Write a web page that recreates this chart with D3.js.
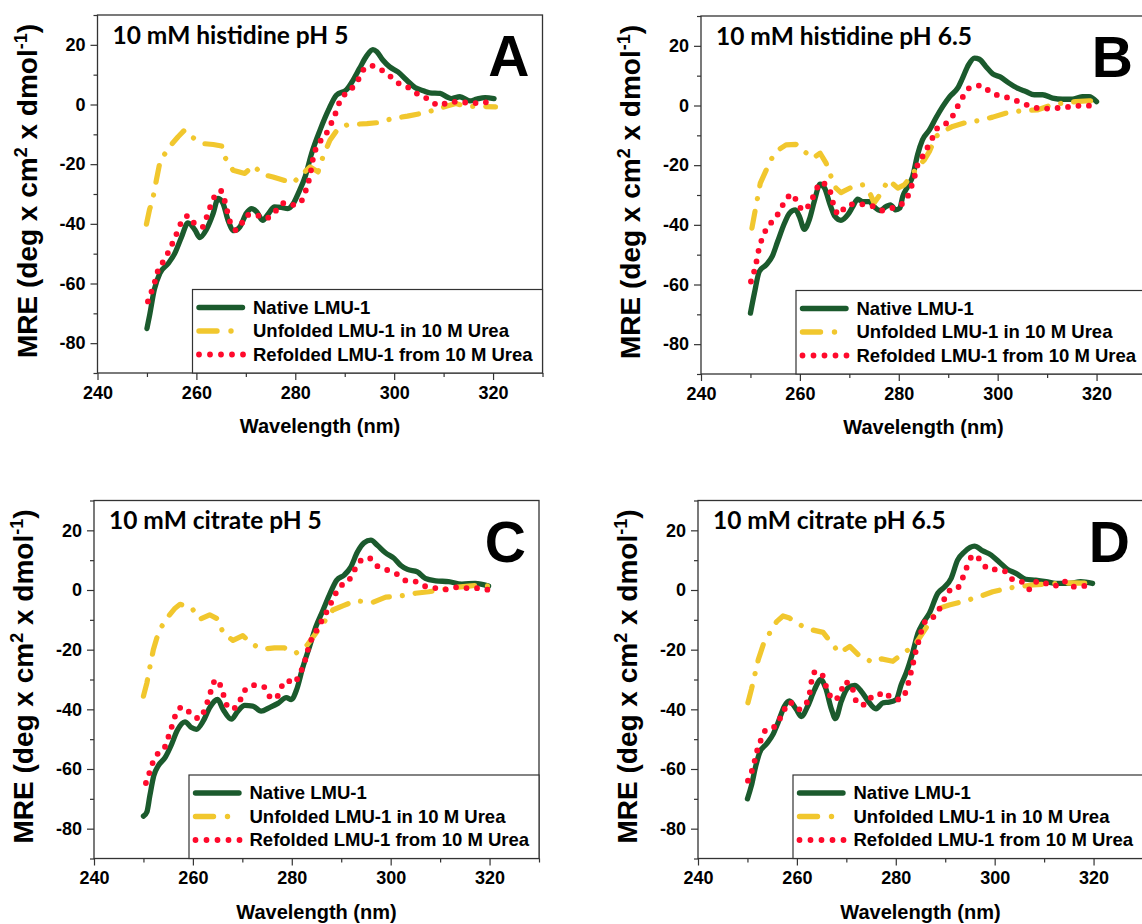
<!DOCTYPE html>
<html>
<head>
<meta charset="utf-8">
<script src="https://cdn.jsdelivr.net/npm/d3@7"></script>
<style>
  body { margin: 0; background: #fff; }
  svg { display: block; }
  text { font-family: "Liberation Sans", Arial, sans-serif; font-weight: bold; fill: #000; }
</style>
</head>
<body>
<svg id="chart" width="1142" height="924"></svg>
<script>
// ---- axis ticks and labels ----
const wavelengthTicks = [240, 260, 280, 300, 320];
const wavelengthMinor = [250, 270, 290, 310, 330];
const mreTicks = [-80, -60, -40, -20, 0, 20];
const mreMinor = [-90, -70, -50, -30, -10, 10, 30];
const seriesNames = ["Native LMU-1", "Unfolded LMU-1 in 10 M Urea", "Refolded LMU-1 from 10 M Urea"];
const panelTitles = ["10 mM histidine pH 5", "10 mM histidine pH 6.5", "10 mM citrate pH 5", "10 mM citrate pH 6.5"];
const panelLetters = ["A", "B", "C", "D"];

// ---- CD spectra: [wavelength (nm), MRE] ----
const nativeA = [[250,-75.1],[250.5,-71],[251.5,-62],[252.6,-56.6],[254.3,-53.3],[255.6,-50],[257,-44.4],[258.3,-39.7],[259.7,-42],[260.7,-44.6],[262,-42],[263.4,-36.5],[264.4,-31.5],[265.4,-33.2],[266.4,-38.8],[267.6,-42.3],[268.8,-41],[270.1,-36.5],[271.2,-34.9],[272.2,-36],[273.4,-38.8],[274.6,-36.5],[275.8,-34.3],[277.2,-34.5],[278.5,-34.9],[279.6,-33.2],[280.6,-29.8],[282,-24.2],[283.3,-16.4],[285,-8.6],[286.7,-1.9],[288.3,3.1],[290.4,5],[291.7,8.2],[293,12.1],[294.4,16.2],[295.7,18.4],[296.5,17.7],[297.7,14.9],[299.1,12.6],[300.8,10.9],[302.5,8.2],[304.2,5.7],[305.9,4.6],[307.2,3.9],[309.3,3.7],[310.6,2.6],[311.6,2],[313.3,2.6],[315.3,1.2],[316.7,1.8],[318.4,2.3],[320.2,2]];
const unfoldedA = [[249.9,-40.1],[250.5,-35.4],[251.2,-31.5],[251.9,-25.4],[252.7,-18.7],[253.6,-16.6],[255.1,-13.1],[256.3,-10.8],[257.6,-8.6],[259.3,-11.1],[261.3,-13.1],[263.4,-13.4],[265.1,-13.9],[265.7,-17.5],[267.4,-22],[269.8,-23.1],[271.5,-20.5],[273.5,-23.5],[275.5,-24.3],[277.5,-25.3],[279.5,-26.3],[281.6,-23.1],[283,-20.9],[284.6,-22.6],[285.6,-17.5],[287,-12],[288.7,-8],[290.4,-6.9],[292.4,-6.6],[294.5,-6.4],[296.6,-6.1],[299.7,-4.7],[302.7,-3.9],[305.4,-3],[308.1,-1.9],[310.5,-0.6],[312.5,0.3],[314.5,-0.6],[317.2,-0.6],[320.5,-0.8]];
const refoldedA = [[250.2,-66],[250.9,-62.8],[251.6,-59.4],[252.2,-55.8],[253.4,-52.4],[254.3,-49.6],[255.3,-46],[256.1,-42.9],[257,-39.3],[258.4,-37.3],[259.9,-40.4],[261.3,-41],[262.1,-37.6],[262.8,-34.3],[263.7,-30.7],[264.9,-28.9],[265.7,-32.1],[266.7,-38.8],[268,-42.1],[269.1,-40.1],[270.1,-37.1],[271.9,-36.9],[273.8,-38.2],[275.5,-36.8],[276.6,-34.5],[278.1,-32.8],[279.9,-33.7],[281.6,-31.5],[282.3,-27.8],[282.9,-24.5],[283.7,-17.3],[284.4,-13.9],[286,-10.6],[287.1,-6.9],[288,-3.6],[288.7,-0.2],[290,3.4],[291.7,5.9],[292.7,8.2],[293.7,11.5],[295.3,13],[297.5,11.5],[299.3,9.3],[301,7],[303.2,5.4],[305.1,3.1],[307.1,1.7],[309.1,-0.4],[311.3,0.9],[313.4,0.9],[315.7,0.3],[317.9,0.9],[320.1,-0.6]];

const nativeB = [[250,-69.6],[250.8,-62.9],[251.8,-55.6],[253.2,-53.4],[254.4,-50.6],[255.5,-45.6],[256.9,-39.4],[257.9,-36.1],[259.1,-35],[259.9,-37.2],[260.9,-41.5],[261.9,-38.3],[262.9,-32.2],[264.1,-26.4],[265,-27.7],[266,-32.7],[267.1,-37.2],[268.3,-38.5],[269.7,-36.6],[270.7,-33.9],[271.7,-31.4],[272.7,-32.2],[274,-32.2],[275,-33.9],[276.2,-35.2],[277.4,-33.9],[278.3,-33.3],[279.4,-35],[280.2,-34.4],[280.8,-30.5],[281.8,-27.2],[282.8,-23.8],[283.8,-16.5],[284.8,-11.5],[286.2,-8.2],[287.5,-4.2],[288.9,-0.3],[290.3,3],[291.9,5.8],[292.9,9.2],[294.1,13.6],[295.3,15.9],[296.3,15.5],[297.6,13.1],[299,10.6],[300.6,9.5],[302.3,7.5],[304,5.8],[305.7,4.7],[307.4,3.6],[309.1,3.6],[311.1,2.5],[313.1,2.1],[315.1,2.1],[317.1,3],[318.5,3],[320,1.3]];
const unfoldedB = [[250.3,-41.1],[251.1,-33.9],[252,-26],[253.2,-21.6],[254.5,-17.1],[255.9,-14.6],[257.2,-13.2],[259.2,-13],[260.9,-15.4],[262.6,-17.7],[264.1,-16],[265.3,-19.3],[266.3,-23.8],[267.3,-27.7],[268.3,-29.2],[270.7,-27.2],[272.7,-26.6],[274,-28.8],[275,-32.7],[276.4,-29.4],[277.9,-24.9],[279.8,-27.7],[281.1,-26.6],[282.5,-23.8],[283.8,-20.4],[285.2,-18.2],[286.2,-15.4],[287.5,-10.4],[288.9,-8.7],[290.9,-7],[293.6,-5.7],[296.3,-5],[299,-3.9],[301.6,-2.6],[305,-1.7],[308,-1.5],[310.4,-0.1],[313.1,0.8],[315.8,1.3],[318.5,1.6],[320,1.3]];
const refoldedB = [[250.1,-59],[250.8,-55.3],[251.3,-51.7],[251.7,-48.2],[252.4,-44.5],[253.3,-41.1],[254.6,-38.5],[255.9,-35.5],[256.9,-32.2],[258.6,-29.7],[259.4,-32.5],[260.9,-35.2],[262.1,-32.4],[263.1,-29.2],[264.1,-25.8],[265.3,-26.6],[266.3,-29.7],[266.8,-33.3],[268,-36.6],[269.2,-33.9],[271.3,-33],[273.4,-33.3],[275,-33.9],[276.7,-35.2],[278.6,-34.4],[280.4,-33.3],[281.8,-30.5],[282.5,-27.4],[283.2,-23.8],[283.8,-19.9],[284.8,-17.1],[286.8,-10.9],[287.8,-7.6],[289.5,-6.1],[290.9,-3.5],[291.9,-0.3],[293,3],[294.4,6],[296.7,6.7],[298.8,4.1],[300.8,3.2],[302.9,2.2],[304.9,0.8],[306.9,-0.3],[308.9,-1.1],[311.2,-0.9],[313.4,-0.7],[315.7,-0.1],[317.7,-0.1],[319.8,0.2]];

const nativeC = [[250,-75.8],[250.7,-74.4],[251.3,-68.9],[252.1,-62.2],[253,-58.9],[254.4,-56.1],[255.7,-51.7],[256.8,-47.2],[258.4,-44.2],[259.7,-46.1],[260.7,-46.7],[262.1,-43.9],[263.4,-39.4],[265,-36.7],[266.1,-40],[267.8,-43.3],[269.1,-40.6],[270.5,-38.7],[272.1,-38.9],[273.8,-40.6],[275.5,-39.4],[277.2,-38],[278.9,-36.1],[279.9,-36.7],[281,-33.3],[282.2,-26.1],[283.6,-18.9],[284.9,-12.2],[286.2,-7.2],[287.6,-1.7],[289.1,3.3],[290.6,5],[291.9,7.6],[293.3,12.8],[294.6,15.8],[296,16.7],[297.3,15],[299,12.4],[300.7,10.6],[302,8.3],[303.4,6.9],[305.4,6.1],[307,3.9],[309.1,3.1],[311.7,2.8],[314.4,2],[317.1,2.2],[319.8,1.3]];
const unfoldedC = [[250,-35.6],[250.7,-31.1],[251.2,-26.7],[252,-20],[252.7,-16.1],[253.7,-12.2],[255,-8.9],[256.4,-6.1],[257.4,-4.8],[259.7,-5.9],[261.4,-9.8],[263.4,-8.3],[265.1,-9.8],[266.1,-14.4],[268.1,-16.9],[270.1,-15.3],[272.1,-18.3],[274.2,-19.8],[276.5,-19.4],[278.5,-19.4],[280.9,-21.1],[283.2,-18.3],[284.9,-14.4],[286.6,-10.6],[288.3,-6.7],[290.3,-5.3],[293,-3.6],[296.3,-4.2],[299,-2.4],[302,-2],[305,-1.1],[307.7,-0.6],[310.4,0.2],[313.1,0.9],[315.8,1.3],[318.1,1.7],[319.8,1.3]];
const refoldedC = [[250.5,-64.7],[251.2,-61.3],[251.9,-57.8],[253.2,-54.2],[254.6,-51.9],[255.2,-48.3],[255.9,-45],[256.6,-41.4],[257.9,-39.2],[259.4,-41.1],[261.3,-43.1],[262.4,-40],[263.1,-36.7],[263.8,-33.1],[264.6,-30],[265.8,-33],[266.4,-36.3],[267.3,-39.8],[268.7,-39.4],[269.8,-36.1],[270.8,-33],[272.5,-31.9],[274.5,-32.6],[275.6,-35.8],[276.8,-36.4],[277.7,-33.1],[279,-30.3],[280.5,-31.3],[281.5,-28.3],[282.4,-25.2],[283,-21.7],[283.6,-18.1],[284.6,-14.8],[285.6,-11.7],[286.6,-8.7],[287.6,-5.6],[288.6,-2],[289.9,1.3],[291.5,3.1],[292.6,6.4],[293.6,9.4],[295.5,10.8],[297.3,8],[299.3,6.7],[301.3,5.3],[303.2,3.1],[305.2,2.8],[307.2,1.1],[309.2,0.6],[311.4,0.2],[313.4,0.9],[315.8,0.6],[317.8,0.6],[319.8,0]];

const nativeD = [[250,-70],[250.8,-65.6],[251.7,-58.9],[252.5,-54.4],[253.8,-51.7],[255.2,-48.3],[256.2,-44.4],[257.5,-38.9],[258.5,-37.2],[259.8,-39.8],[260.9,-42.4],[262.2,-38.9],[263.6,-33.3],[264.8,-30],[265.8,-32.8],[267,-40],[267.8,-43.1],[269,-37.2],[270.3,-32.8],[271.7,-32],[273,-33.9],[274.4,-37.2],[276,-39.8],[277.4,-37.8],[278.7,-37.6],[280.1,-36.7],[281.1,-31.7],[282.1,-27.8],[283.4,-21.1],[284.5,-14.4],[285.5,-11.1],[286.8,-7.8],[288.5,-1.1],[289.8,0.9],[291.2,3.9],[292.5,10],[293.9,12.8],[295.9,14.7],[297.6,13.1],[299.3,11.7],[300.9,9.4],[302.6,6.9],[304.3,5.6],[306.3,3.6],[308.3,3.3],[310.4,2.8],[312.4,2.2],[315.1,2.2],[317.4,2.8],[319.8,2.2]];
const unfoldedD = [[250.1,-37.8],[250.8,-33.3],[251.5,-28.3],[252.2,-23.3],[253.2,-18.3],[254.5,-14.4],[255.9,-10.6],[257.2,-8.7],[258.5,-9.4],[260.6,-11.7],[262.9,-13.3],[265.3,-14.2],[267,-17.8],[268.6,-21.1],[270.7,-18.9],[272.7,-22.2],[275.4,-24.2],[277.1,-23.1],[279.4,-23.9],[281.4,-21.3],[283.1,-19.4],[284.1,-17.8],[285.1,-15.3],[286.1,-12.8],[287.5,-8.9],[288.8,-6.1],[290.8,-5],[293.5,-3.9],[296.6,-2.4],[299.6,-0.6],[302.6,0.6],[305,1.1],[307.7,1.7],[310.4,2],[313.1,2.2],[315.7,2.4],[319.8,2.2]];
const refoldedD = [[250.1,-63.9],[250.9,-60.6],[251.5,-57],[252,-53.6],[252.8,-50],[253.8,-46.7],[255.5,-45.8],[256.5,-43.3],[257.5,-40],[258.5,-37.6],[260.4,-40],[261.9,-38],[262.6,-34.4],[262.9,-31.1],[263.4,-27.6],[264.9,-27.6],[265.6,-30.9],[266.3,-33.9],[267.4,-36.9],[269,-33.9],[269.4,-30.9],[270.8,-31.3],[272.1,-37.6],[273.2,-38.7],[274.7,-36.1],[275.9,-36.1],[277.5,-34.2],[279.1,-36.1],[280.8,-36.7],[282,-34.2],[282.6,-30.8],[283.1,-27.4],[283.6,-23.9],[284.1,-20.2],[284.7,-16.7],[285.3,-13.1],[286.3,-9.8],[287.8,-8.9],[288.8,-6.4],[289.8,-3.1],[290.8,-0.2],[292.2,0],[293.2,2.8],[294.1,6.4],[294.8,9.7],[295.9,11.7],[297.4,9.4],[298.8,6.9],[300.4,6.9],[302.3,6.1],[303.8,3.3],[305.7,2.6],[307.1,0.2],[308.7,3],[310.4,2.2],[312,1.3],[313.9,3],[315.7,1.1],[317.8,1.3],[319.9,1.7]];

const panelSeries = [
  [nativeA, unfoldedA, refoldedA],
  [nativeB, unfoldedB, refoldedB],
  [nativeC, unfoldedC, refoldedC],
  [nativeD, unfoldedD, refoldedD]
];

// ---- layout & styles ----
const W = 445, H = 358;
const origins = [
  { left: 97.5, top: 15 },
  { left: 701, top: 16 },
  { left: 94, top: 500.5 },
  { left: 698, top: 500.5 }
];
const styles = [
  { color: "#1b5a2d", width: 5.3, dash: null, cap: "round", curve: d3.curveMonotoneX },
  { color: "#f1c72e", width: 5.2, dash: "17 13 0.01 13", cap: "round", curve: d3.curveLinear },
  { color: "#ff0a2c", width: 5.8, dash: "0 10.5", cap: "round", curve: d3.curveMonotoneX }
];
const drawOrder = [0, 1, 2];

const svg = d3.select("#chart");
const fmt = d => String(d);

panelSeries.forEach((series, i) => {
  const o = origins[i];
  const g = svg.append("g").attr("transform", `translate(${o.left},${o.top})`);
  const x = d3.scaleLinear().domain([240, 330]).range([0, W]);
  const y = d3.scaleLinear().domain([-90, 30]).range([H, 0]);

  // x axis: minor + major ticks
  const gxm = g.append("g").attr("transform", `translate(0,${H})`)
    .call(d3.axisBottom(x).tickValues(wavelengthMinor).tickSize(4).tickSizeOuter(0).tickFormat(""));
  const gx = g.append("g").attr("transform", `translate(0,${H})`)
    .call(d3.axisBottom(x).tickValues(wavelengthTicks).tickSize(7).tickSizeOuter(0).tickPadding(6).tickFormat(fmt));
  // y axis
  const gym = g.append("g")
    .call(d3.axisLeft(y).tickValues(mreMinor).tickSize(4).tickSizeOuter(0).tickFormat(""));
  const gy = g.append("g")
    .call(d3.axisLeft(y).tickValues(mreTicks).tickSize(7).tickSizeOuter(0).tickPadding(5).tickFormat(fmt));
  [gxm, gx, gym, gy].forEach(a => {
    a.select(".domain").remove();
    a.selectAll(".tick line").attr("stroke", "#333").attr("stroke-width", 1.2);
    a.selectAll("text").attr("font-size", 18).attr("font-family", null).attr("fill", "#000");
  });

  // frame
  g.append("rect").attr("width", W).attr("height", H)
    .attr("fill", "none").attr("stroke", "#333").attr("stroke-width", 1.3);

  // spectra
  drawOrder.forEach(k => {
    const s = styles[k];
    const line = d3.line().x(d => x(d[0])).y(d => y(d[1])).curve(s.curve);
    g.append("path").datum(series[k])
      .attr("d", line)
      .attr("fill", "none")
      .attr("stroke", s.color)
      .attr("stroke-width", s.width)
      .attr("stroke-linecap", s.cap)
      .attr("stroke-linejoin", "round")
      .attr("stroke-dasharray", s.dash);
  });

  // panel title and letter
  g.append("text").attr("x", 15).attr("y", 28.5)
    .style("font-family", "Lato, 'Open Sans', sans-serif")
    .attr("font-size", 24.5).text(panelTitles[i]);
  g.append("text").attr("x", W - 13).attr("y", 61)
    .attr("text-anchor", "end").attr("font-size", 57).text(panelLetters[i]);

  // legend
  const lg = g.append("g").attr("transform", `translate(95,274.5)`);
  lg.append("rect").attr("width", W - 95).attr("height", H - 274.5)
    .attr("fill", "#fff").attr("stroke", "#333").attr("stroke-width", 1.2);
  seriesNames.forEach((name, k) => {
    const s = styles[k];
    const ry = 18 + k * 23.5;
    lg.append("line").attr("x1", 6.5).attr("x2", k === 0 ? 50 : 52).attr("y1", ry).attr("y2", ry)
      .attr("stroke", s.color).attr("stroke-width", k === 2 ? 5.8 : 5.4)
      .attr("stroke-linecap", s.cap)
      .attr("stroke-dasharray", k === 1 ? "18 14 0.01 14" : (k === 2 ? "0 11" : null));
    lg.append("text").attr("x", 60.5).attr("y", ry).attr("dy", "0.35em")
      .attr("font-size", 18.5).text(name);
  });

  // axis titles
  g.append("text").attr("x", W / 2).attr("y", H + 60)
    .attr("text-anchor", "middle").attr("font-size", 20).text("Wavelength (nm)");
  const yt = g.append("text")
    .attr("transform", `translate(-61,${H / 2 - 3}) rotate(-90)`)
    .attr("text-anchor", "middle").attr("font-size", 28);
  yt.append("tspan").text("MRE (deg x cm");
  yt.append("tspan").attr("dy", -10).attr("font-size", 18).text("2");
  yt.append("tspan").attr("dy", 10).text(" x dmol");
  yt.append("tspan").attr("dy", -10).attr("font-size", 18).text("-1");
  yt.append("tspan").attr("dy", 10).text(")");
});
</script>
</body>
</html>
